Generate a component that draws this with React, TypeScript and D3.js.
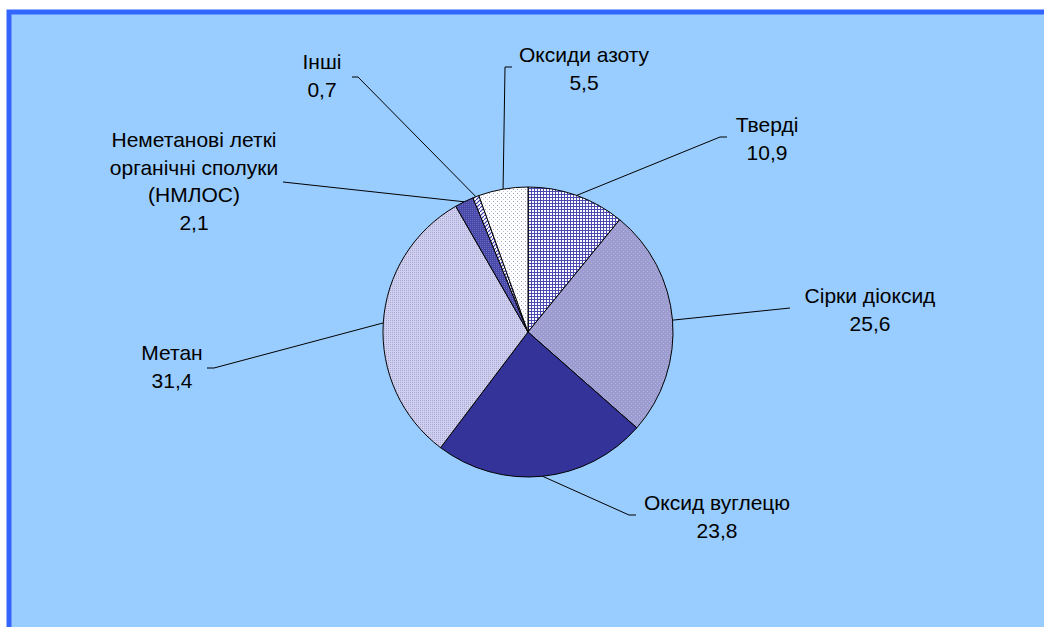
import * as d3 from 'd3'

const categories = [
  'Тверді',
  'Сірки діоксид',
  'Оксид вуглецю',
  'Метан',
  'Неметанові леткі органічні сполуки (НМЛОС)',
  'Інші',
  'Оксиди азоту',
]
const values = [10.9, 25.6, 23.8, 31.4, 2.1, 0.7, 5.5]
const valueLabels = ['10,9', '25,6', '23,8', '31,4', '2,1', '0,7', '5,5']
const labelLines = [
  ['Тверді'],
  ['Сірки діоксид'],
  ['Оксид вуглецю'],
  ['Метан'],
  ['Неметанові леткі', 'органічні сполуки', '(НМЛОС)'],
  ['Інші'],
  ['Оксиди азоту'],
]

// label placement (text centre x, first line centre y, leader start point)
const labelLayout = [
  { cx: 767, cy: 125, sx: 727, sy: 137, stub: -7 },
  { cx: 870, cy: 296, sx: 790, sy: 308, stub: 0 },
  { cx: 717, cy: 503, sx: 636, sy: 515, stub: -7 },
  { cx: 172, cy: 353, sx: 207, sy: 368, stub: 7 },
  { cx: 194, cy: 140, sx: 283, sy: 182, stub: 0 },
  { cx: 322, cy: 62, sx: 352, sy: 77, stub: 6 },
  { cx: 584, cy: 55, sx: 512, sy: 67, stub: -7 },
]

const fills = ['url(#pTv)', 'url(#pSd)', '#333399', 'url(#pMe)', 'url(#pNm)', 'url(#pIn)', 'url(#pOa)']

const W = 1044
const H = 627
const cx = 528
const cy = 332
const R = 145
const fontSize = 21
const lineH = 27.5

const App = () => {
  const pie = d3
    .pie<number>()
    .sort(null)
    .value(d => d)
  const arcs = pie(values)
  const arcGen = d3.arc<d3.PieArcDatum<number>>().innerRadius(0).outerRadius(R)

  return (
    <svg
      width={W}
      height={H}
      style={{ position: 'absolute', left: 0, top: 0 }}
      fontFamily="'Liberation Sans', Arial, sans-serif"
    >
      <defs>
        <pattern id="pTv" width={3} height={3} patternUnits="userSpaceOnUse">
          <rect width={3} height={3} fill="#ffffff" />
          <rect width={3} height={1} fill="#4a4ab0" />
          <rect width={1} height={3} fill="#4a4ab0" />
        </pattern>
        <pattern id="pSd" width={4} height={4} patternUnits="userSpaceOnUse">
          <rect width={4} height={4} fill="#9c9cd0" />
          <rect x={1} y={1} width={1} height={1} fill="#b4b4e0" />
          <rect x={3} y={3} width={1} height={1} fill="#b4b4e0" />
        </pattern>
        <pattern id="pMe" width={2} height={2} patternUnits="userSpaceOnUse">
          <rect width={2} height={2} fill="#d0d0ee" />
          <rect width={1} height={1} fill="#a8a8d8" />
        </pattern>
        <pattern id="pNm" width={2} height={2} patternUnits="userSpaceOnUse">
          <rect width={2} height={2} fill="#4848a8" />
          <rect width={1} height={1} fill="#6a6ac0" />
        </pattern>
        <pattern id="pIn" width={4} height={4} patternUnits="userSpaceOnUse">
          <rect width={4} height={4} fill="#ffffff" />
          <path d="M0,4 L4,0" stroke="#3333aa" strokeWidth={1.2} />
        </pattern>
        <pattern id="pOa" width={4} height={4} patternUnits="userSpaceOnUse">
          <rect width={4} height={4} fill="#ffffff" />
          <rect x={1} y={1} width={1} height={1} fill="#9999cc" />
          <rect x={3} y={3} width={1} height={1} fill="#c0c0e0" />
        </pattern>
      </defs>

      <rect x={9} y={12} width={W} height={H} fill="#99ccff" stroke="#3366ff" strokeWidth={5} />
      <line x1={11.5} y1={14.5} x2={11.5} y2={H} stroke="#6f93ff" strokeWidth={1} />

      <g transform={`translate(${cx},${cy})`}>
        {arcs.map((a, i) => (
          <path key={categories[i]} d={arcGen(a) ?? ''} fill={fills[i]} stroke="#000" strokeWidth={1} />
        ))}
      </g>

      {arcs.map((a, i) => {
        const mid = (a.startAngle + a.endAngle) / 2
        const px = cx + R * Math.sin(mid)
        const py = cy - R * Math.cos(mid)
        const l = labelLayout[i]
        const pts: [number, number][] = [
          [l.sx, l.sy],
          [l.sx + l.stub, l.sy],
          [px, py],
        ]
        return (
          <path
            key={'l' + i}
            d={d3.line()(pts) ?? ''}
            fill="none"
            stroke="#000"
            strokeWidth={1}
          />
        )
      })}

      {labelLayout.map((l, i) => {
        const lines = [...labelLines[i], valueLabels[i]]
        return (
          <text key={'t' + i} textAnchor="middle" fontSize={fontSize} fill="#000">
            {lines.map((s, j) => (
              <tspan key={j} x={l.cx} y={l.cy + j * lineH} dy="0.35em">
                {s}
              </tspan>
            ))}
          </text>
        )
      })}
    </svg>
  )
}

export default App
